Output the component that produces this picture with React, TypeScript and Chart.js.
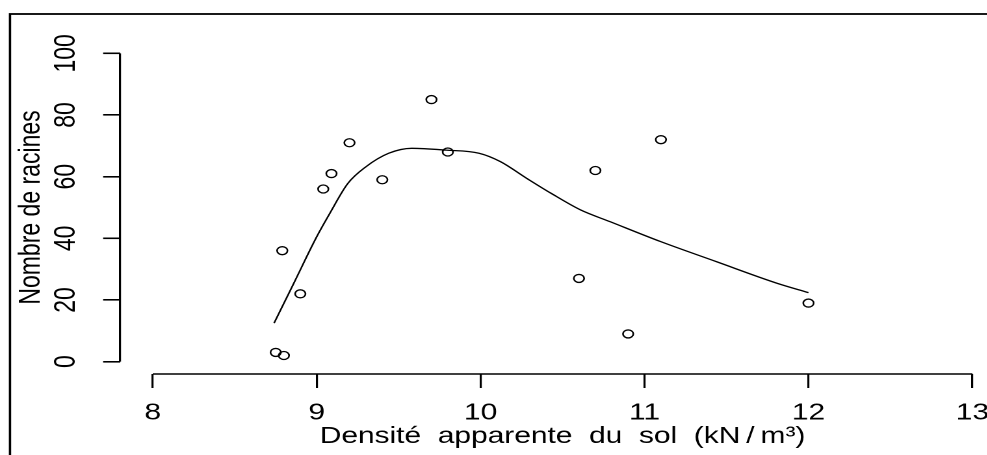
import React, { useEffect, useRef } from "react";
import { Chart, registerables } from "chart.js";

Chart.register(...registerables);

// Observations
const densite = [8.75, 8.8, 8.79, 8.9, 9.04, 9.09, 9.2, 9.4, 9.7, 9.8, 10.6, 10.7, 10.9, 11.1, 12.0];
const racines = [3, 2, 36, 22, 56, 61, 71, 59, 85, 68, 27, 62, 9, 72, 19];

// Smoothed (lowess) curve
const lowessX = [8.74, 8.86, 9.0, 9.08, 9.19, 9.3, 9.44, 9.58, 9.79, 9.99, 10.12, 10.28, 10.43, 10.61, 10.79, 11.1, 11.44, 11.81, 12.0];
const lowessY = [12.5, 25.4, 40.5, 48.1, 57.8, 63.2, 67.6, 69.2, 68.6, 67.6, 64.9, 59.5, 54.6, 49.2, 45.4, 38.9, 32.4, 25.4, 22.4];

// Axes
const xTicks = [8, 9, 10, 11, 12, 13];
const yTicks = [0, 20, 40, 60, 80, 100];
const xTitle = "Densité  apparente  du  sol  (kN\u2009/\u2009m³)";
const yTitle = "Nombre de racines";

const STRETCH = 1.3;
const W = 800;
const H = 455;
const FONT = { family: "'Liberation Sans', Arial, sans-serif", size: 23 };

const rAxesPlugin = {
  id: "rAxes",
  afterDraw(chart: any) {
    const { ctx, chartArea, scales } = chart;
    const xs = scales.x;
    const ys = scales.y;
    ctx.save();
    ctx.strokeStyle = "#000";
    ctx.lineWidth = 1.6;
    ctx.lineCap = "butt";
    // x axis line from first to last tick
    ctx.beginPath();
    ctx.moveTo(xs.getPixelForValue(xTicks[0]), chartArea.bottom);
    ctx.lineTo(xs.getPixelForValue(xTicks[xTicks.length - 1]), chartArea.bottom);
    ctx.stroke();
    // y axis line
    ctx.beginPath();
    ctx.moveTo(chartArea.left, ys.getPixelForValue(yTicks[0]));
    ctx.lineTo(chartArea.left, ys.getPixelForValue(yTicks[yTicks.length - 1]));
    ctx.stroke();
    // figure frame
    ctx.lineWidth = 1.8;
    ctx.strokeRect(7.7, 14, 2000, 2000);
    ctx.restore();
  },
};

export default function App() {
  const ref = useRef<HTMLCanvasElement | null>(null);

  useEffect(() => {
    if (!ref.current) return;
    const chart = new Chart(ref.current, {
      type: "scatter",
      data: {
        datasets: [
          {
            data: densite.map((x, i) => ({ x, y: racines[i] })),
            pointStyle: "circle",
            pointRadius: 4,
            pointBorderWidth: 1.3,
            pointBorderColor: "#000",
            pointBackgroundColor: "rgba(0,0,0,0)",
            showLine: false,
          },
          {
            data: lowessX.map((x, i) => ({ x, y: lowessY[i] })),
            showLine: true,
            pointRadius: 0,
            borderColor: "#000",
            borderWidth: 1.3,
            cubicInterpolationMode: "monotone",
            fill: false,
          },
        ],
      },
      options: {
        animation: false,
        responsive: false,
        devicePixelRatio: 2,
        layout: { padding: { left: 0, top: 41, right: 26.8, bottom: 0 } },
        plugins: { legend: { display: false }, tooltip: { enabled: false } },
        scales: {
          x: {
            type: "linear",
            position: "bottom",
            min: 7.8,
            max: 13.2,
            afterBuildTicks: (s: any) => {
              s.ticks = xTicks.map((v) => ({ value: v }));
            },
            afterFit: (s: any) => {
              s.height = 81;
            },
            grid: {
              display: true,
              drawOnChartArea: false,
              drawTicks: true,
              tickLength: 14,
              color: "#000",
              lineWidth: 1.6,
            },
            border: { display: false },
            ticks: {
              font: FONT,
              color: "#000",
              padding: 11.5,
              autoSkip: false,
              maxRotation: 0,
              minRotation: 0,
            },
            title: {
              display: true,
              text: xTitle,
              font: FONT,
              color: "#000",
              padding: { top: 0, bottom: 4.5 },
            },
          },
          y: {
            type: "linear",
            position: "left",
            min: -4,
            max: 104,
            afterBuildTicks: (s: any) => {
              s.ticks = yTicks.map((v) => ({ value: v }));
            },
            afterFit: (s: any) => {
              s.width = 92.3;
            },
            grid: {
              display: true,
              drawOnChartArea: false,
              drawTicks: true,
              tickLength: 13,
              color: "#000",
              lineWidth: 1.6,
            },
            border: { display: false },
            ticks: {
              font: FONT,
              color: "#000",
              padding: 8.8,
              autoSkip: false,
              minRotation: 90,
              maxRotation: 90,
              crossAlign: "center",
            },
            title: {
              display: true,
              text: yTitle,
              font: FONT,
              color: "#000",
              padding: { top: 10.6, bottom: 0 },
            },
          },
        },
      },
      plugins: [rAxesPlugin],
    } as any);
    return () => chart.destroy();
  }, []);

  return (
    <div
      style={{
        position: "fixed",
        left: 0,
        top: 0,
        width: 987,
        height: 455,
        overflow: "hidden",
        background: "#fff",
      }}
    >
      <div
        style={{
          width: W,
          height: H,
          transform: `scaleX(${STRETCH})`,
          transformOrigin: "0 0",
        }}
      >
        <canvas ref={ref} width={W} height={H} style={{ display: "block", width: W, height: H }} />
      </div>
    </div>
  );
}
